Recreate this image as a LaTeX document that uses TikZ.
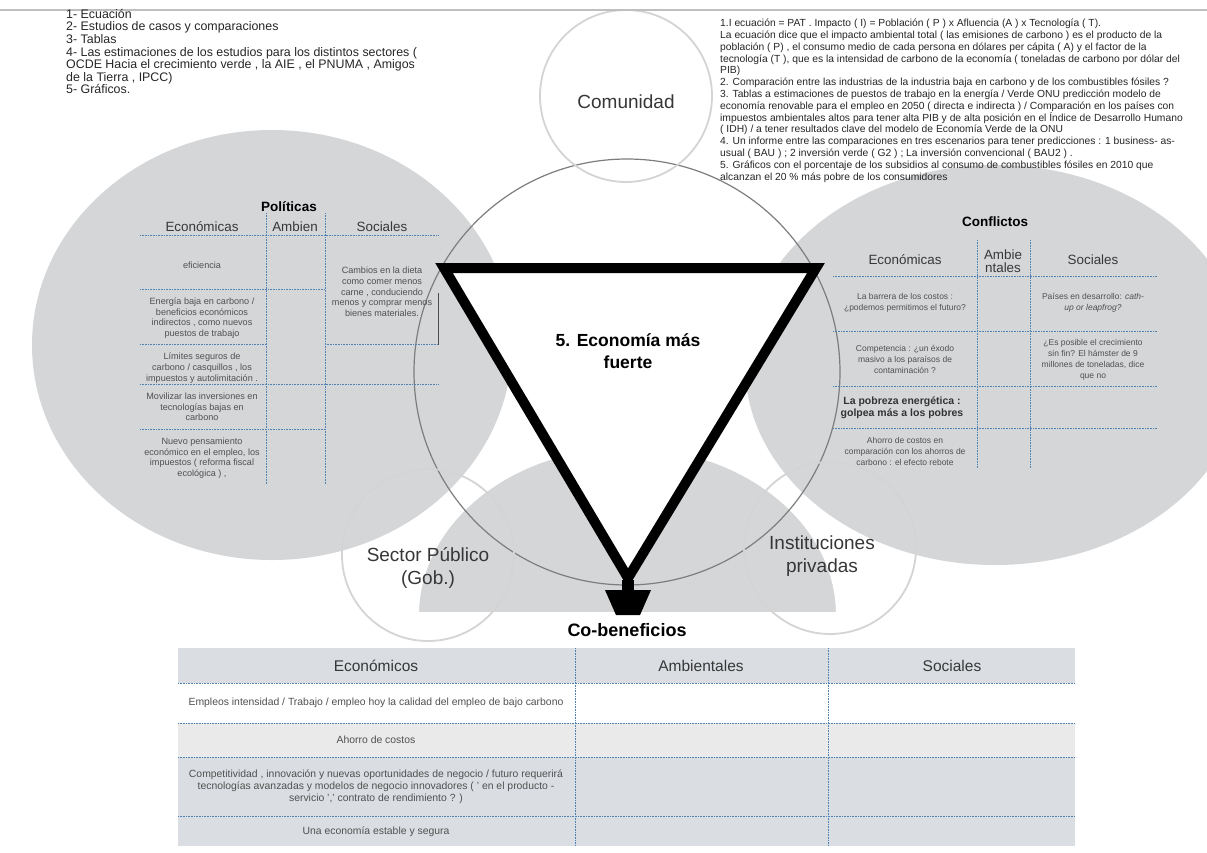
\documentclass[tikz,border=0pt]{standalone}
\usepackage{fontspec}
\setmainfont{Liberation Sans}
\definecolor{blobgray}{RGB}{212,214,216}
\definecolor{ringgray}{RGB}{212,212,212}
\definecolor{outline}{RGB}{125,125,125}
\definecolor{rulecol}{RGB}{80,130,180}
\definecolor{hdrfill}{RGB}{218,222,226}
\definecolor{rowfill}{RGB}{234,234,234}
\definecolor{celltext}{RGB}{80,80,80}
\definecolor{hdrtext}{RGB}{55,55,55}
\newcommand{\setfs}[2]{\fontsize{#1}{#2}\selectfont}
\tikzset{
  blob/.style={fill=blobgray},
  ring/.style={draw=ringgray, line width=1.8},
  dotrule/.style={draw=rulecol, line width=0.8, dash pattern=on 0.8pt off 0.8pt},
  cell/.style={font=\setfs{8.5}{11}, text=celltext, align=center, inner sep=0},
  polcell/.style={cell, font=\setfs{9.1}{10.7}},
  bencell/.style={cell, font=\setfs{10.4}{12}},
  hdr/.style={font=\setfs{13.4}{13.4}, text=hdrtext, align=center, inner sep=0},
  tag/.style={font=\setfs{19}{23}, text=hdrtext, align=center, inner sep=0},
  ttl/.style={font=\bfseries\setfs{13.5}{15}, text=black, inner sep=0}
}

\begin{document}
\begin{tikzpicture}[x=1pt, y=-1pt]
	%%%%% START %%%%%
	\useasboundingbox (0,0) rectangle (1207,852);
	\fill[white] (0,0) rectangle (1207,852);
	
	\fill[blob] (272,345) ellipse [x radius=240, y radius=215];
	\fill[blob] (995,365) ellipse [x radius=250, y radius=200];
	\filldraw[blob, draw=white, line width=6] (416,615) arc[start angle=180, end angle=360, x radius=211.5, y radius=170] -- cycle;
	
	\draw[outline, line width=1.2] (627,372) circle (213);
	\draw[ring] (626,96) circle (86);
	\draw[ring] (428,555) circle (86);
	\draw[ring] (830,548) circle (86);
	
	\draw[line width=10, fill=white, miter limit=10] (444,268) -- (816,268) -- (628,578) -- cycle;
	\fill (622,580) rectangle (634,592);
	\fill (605,590) -- (651,590) -- (640,615) -- (616,615) -- cycle;
	
	\draw[black!25, line width=2] (0,10) -- (1207,10);
	
	%% notes on top
	\node[anchor=north west, align=left, inner sep=0, font=\setfs{12.4}{12.6}, text=black!85] (metodos) at (66,9) {1- Ecuación\\2- Estudios de casos y comparaciones\\3- Tablas\\4- Las estimaciones de los estudios para los distintos sectores (\\OCDE Hacia el crecimiento verde , la AIE , el PNUMA , Amigos\\de la Tierra , IPCC)\\5- Gráficos.};
	\node[anchor=north west, align=left, inner sep=0, font=\setfs{10.3}{11.8}, text=black!85] (notas) at (720,19) {1.I ecuación = PAT . Impacto ( I) = Población ( P ) x Afluencia (A ) x Tecnología ( T).\\La ecuación dice que el impacto ambiental total ( las emisiones de carbono ) es el producto de la\\población ( P) , el consumo medio de cada persona en dólares per cápita ( A) y el factor de la\\tecnología (T ), que es la intensidad de carbono de la economía ( toneladas de carbono por dólar del\\PIB)\\2. Comparación entre las industrias de la industria baja en carbono y de los combustibles fósiles ?\\3. Tablas a estimaciones de puestos de trabajo en la energía / Verde ONU predicción modelo de\\economía renovable para el empleo en 2050 ( directa e indirecta ) / Comparación en los países con\\impuestos ambientales altos para tener alta PIB y de alta posición en el Índice de Desarrollo Humano\\( IDH) / a tener resultados clave del modelo de Economía Verde de la ONU\\4. Un informe entre las comparaciones en tres escenarios para tener predicciones : 1 business- as-\\usual ( BAU ) ; 2 inversión verde ( G2 ) ; La inversión convencional ( BAU2 ) .\\5. Gráficos con el porcentaje de los subsidios al consumo de combustibles fósiles en 2010 que\\alcanzan el 20 \% más pobre de los consumidores};
	
	%% actors
	\node[tag] (comunidad) at (626,102) {Comunidad};
	\node[tag] (publico) at (428,568) {Sector Público\\(Gob.)};
	\node[tag] (privadas) at (822,556) {Instituciones\\privadas};
	\node[font=\bfseries\setfs{17.5}{22}, align=center, inner sep=0] (centro) at (628,351) {5. Economía más\\fuerte};
	
	%% Politicas
	\node[ttl] (politicas) at (289,207) {Políticas};
	\node[hdr] (pol-eco) at (202,227) {Económicas};
	\node[hdr] (pol-amb) at (295,227) {Ambien};
	\node[hdr] (pol-soc) at (382,227) {Sociales};
	\draw[dotrule] (140,235) -- (438,235);
	\draw[dotrule] (266,213) -- (266,484);
	\draw[dotrule] (325,213) -- (325,484);
	\draw[dotrule] (140,289) -- (325,289);
	\draw[dotrule] (140,344) -- (266,344);
	\draw[dotrule] (325,344) -- (438,344);
	\draw[dotrule] (140,384) -- (438,384);
	\draw[dotrule] (140,429) -- (325,429);
	\draw[black!70, line width=0.9] (438,293) -- (438,345);
	\node[polcell] (pol-1) at (202,265) {eficiencia};
	\node[polcell] (pol-2) at (202,318) {Energía baja en carbono /\\beneficios económicos\\indirectos , como nuevos\\puestos de trabajo};
	\node[polcell] (pol-3) at (202,368) {Límites seguros de\\carbono / casquillos , los\\impuestos y autolimitación .};
	\node[polcell] (pol-4) at (202,407) {Movilizar las inversiones en\\tecnologías bajas en\\carbono};
	\node[polcell] (pol-5) at (202,458) {Nuevo pensamiento\\económico en el empleo, los\\impuestos (  reforma fiscal\\ecológica ) ,};
	\node[polcell] (pol-s1) at (382,292) {Cambios en la dieta\\como comer menos\\carne , conduciendo\\menos y comprar menos\\bienes materiales.};
	
	%% Conflictos
	\node[ttl] (conflictos) at (995,222) {Conflictos};
	\node[hdr] (con-eco) at (905,260) {Económicas};
	\node[hdr] (con-amb) at (1003,261) {Ambie\\ntales};
	\node[hdr] (con-soc) at (1093,260) {Sociales};
	\draw[dotrule] (833,276) -- (1157,276);
	\draw[dotrule] (977,240) -- (977,468);
	\draw[dotrule] (1030,240) -- (1030,468);
	\draw[dotrule] (833,331) -- (1157,331);
	\draw[dotrule] (833,386) -- (1157,386);
	\draw[dotrule] (833,428) -- (1157,428);
	\node[cell] (con-1) at (905,303) {La barrera de los costos :\\¿podemos permitimos el futuro?};
	\node[cell] (con-2) at (905,359) {Competencia : ¿un éxodo\\masivo a los paraísos de\\contaminación ?};
	\node[font=\bfseries\setfs{10.5}{12.5}, text=black!80, align=center, inner sep=0] (con-3) at (902,408) {La pobreza energética :\\golpea más a los pobres};
	\node[cell] (con-4) at (905,451) {Ahorro de costos en\\comparación con los ahorros de\\carbono : el efecto rebote};
	\node[cell] (con-s1) at (1093,303) {Países en desarrollo: \textit{cath-}\\\textit{up or leapfrog?}};
	\node[cell] (con-s2) at (1093,360) {¿Es posible el crecimiento\\sin fin? El hámster de 9\\millones de toneladas, dice\\que no};
	
	%% Co-beneficios
	\node[font=\bfseries\setfs{18}{20}, inner sep=0] (cobeneficios) at (627,630) {Co-beneficios};
	\fill[hdrfill] (178,648) rectangle (1075,683);
	\fill[rowfill] (178,723) rectangle (1075,757);
	\fill[hdrfill] (178,757) rectangle (1075,846);
	\draw[dotrule] (178,683) -- (1075,683);
	\draw[dotrule] (178,723) -- (1075,723);
	\draw[dotrule] (178,757) -- (1075,757);
	\draw[dotrule] (178,816) -- (1075,816);
	\draw[dotrule] (575,648) -- (575,846);
	\draw[dotrule] (828,648) -- (828,846);
	\node[hdr, font=\setfs{15.5}{16}] (ben-eco) at (376,666) {Económicos};
	\node[hdr, font=\setfs{15.5}{16}] (ben-amb) at (701,666) {Ambientales};
	\node[hdr, font=\setfs{15.5}{16}] (ben-soc) at (952,666) {Sociales};
	\node[bencell] (ben-1) at (376,703) {Empleos intensidad / Trabajo / empleo hoy la calidad del empleo de bajo carbono};
	\node[bencell] (ben-2) at (376,740) {Ahorro de costos};
	\node[bencell] (ben-3) at (376,787) {Competitividad , innovación y nuevas oportunidades de negocio / futuro requerirá\\tecnologías avanzadas y modelos de negocio innovadores ( ' en el producto -\\servicio ',' contrato de rendimiento ? )};
	\node[bencell] (ben-4) at (376,832) {Una economía estable y segura};
	%%%%% END %%%%%
\end{tikzpicture}
\end{document}
